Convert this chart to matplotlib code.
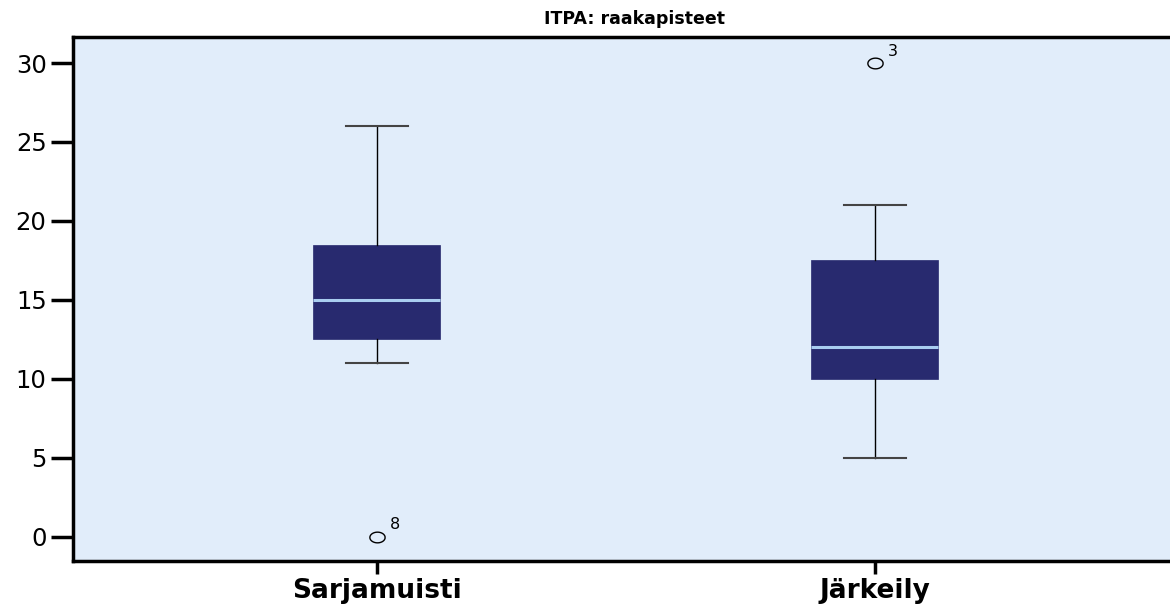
import numpy as np
import matplotlib
matplotlib.use("Agg")
import matplotlib.pyplot as plt
from matplotlib.path import Path

plt.rcParams['font.family'] = ['DejaVu Sans']

groups = ["Sarjamuisti", "Järkeily"]
q1 = [12.5, 10.0]
med = [15.0, 12.0]
q3 = [18.5, 17.5]
whislo = [11.0, 5.0]
whishi = [26.0, 21.0]
outliers = [[0.0], [30.0]]
outlier_ids = [["8"], ["3"]]

stats = []
for i, g in enumerate(groups):
    stats.append(dict(label=g, q1=q1[i], med=med[i], q3=q3[i],
                      whislo=whislo[i], whishi=whishi[i], fliers=outliers[i]))

# flattened open circle for outliers
t = np.linspace(0, 2 * np.pi, 40)
ell = Path(np.column_stack([np.cos(t), 0.7 * np.sin(t)]))

fig = plt.figure(figsize=(11.70, 6.05), dpi=100)
ax = fig.add_axes([73 / 1170, 44 / 605, (1197 - 73) / 1170, 524 / 605])
ax.set_facecolor("#E1EDFA")

ax.bxp(stats, positions=[1, 2], widths=0.255, patch_artist=True,
       boxprops=dict(facecolor="#282A6F", edgecolor="#282A6F", linewidth=0.5),
       medianprops=dict(color="#A9CDF0", linewidth=2.2),
       whiskerprops=dict(color="black", linewidth=1.0),
       capprops=dict(color="#444444", linewidth=1.5),
       capwidths=0.125,
       flierprops=dict(marker=ell, markersize=11, markerfacecolor="none",
                       markeredgecolor="black", markeredgewidth=1.0))

for i in range(len(groups)):
    for v, lab in zip(outliers[i], outlier_ids[i]):
        ax.annotate(lab, (i + 1, v), xytext=(9, 3), textcoords="offset points",
                    fontsize=11.5, ha="left", va="bottom")

ax.set_xlim(0.3896, 2.647)
ax.set_ylim(-1.55, 31.65)
ax.set_yticks([0, 5, 10, 15, 20, 25, 30])
ax.set_xticks([1, 2])
ax.set_xticklabels(groups, fontsize=19, fontweight="bold")
ax.tick_params(axis="y", length=16, width=2.5, labelsize=17.5, pad=3)
ax.tick_params(axis="x", length=9, width=2.5, pad=3)
for s in ["left", "bottom", "top"]:
    ax.spines[s].set_linewidth(2.5)
ax.spines["right"].set_visible(False)

ax.set_title("ITPA: raakapisteet", pad=9, fontsize=12.5, fontweight="bold")

fig.savefig("out.png", dpi=100)
